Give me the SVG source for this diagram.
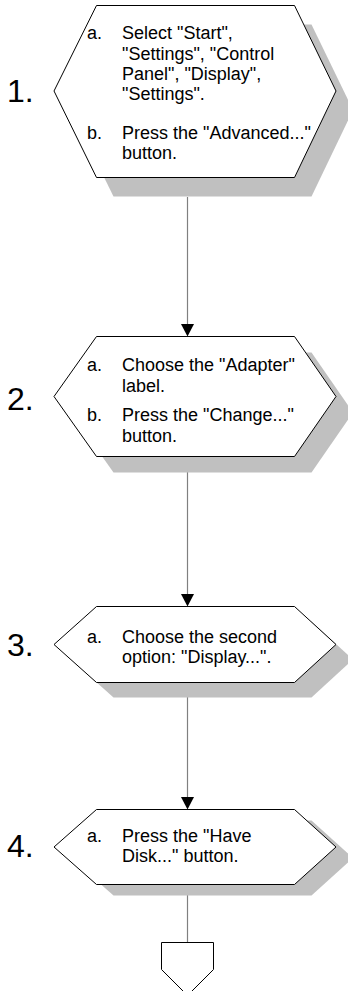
<svg xmlns="http://www.w3.org/2000/svg" width="348" height="991" viewBox="0 0 348 991">
  <defs>
    <style>
      .hex { fill: #ffffff; stroke: #000000; stroke-width: 1; }
      .shadow { fill: #c0c0c0; stroke: none; }
      .wire { stroke: #808080; stroke-width: 1.2; fill: none; }
      .head { fill: #000000; }
      .txt { font-family: "Liberation Sans", Arial, sans-serif; font-size: 18px; fill: #000000; }
      .num { font-family: "Liberation Sans", Arial, sans-serif; font-size: 32px; fill: #000000; }
    </style>
  </defs>
  <rect width="348" height="991" fill="#ffffff"/>

  <!-- connectors -->
  <g id="connectors">
    <line class="wire" x1="187.5" y1="197" x2="187.5" y2="325"/>
    <polygon class="head" points="181,324 194,324 187.5,336.5"/>
    <line class="wire" x1="187.5" y1="472" x2="187.5" y2="595"/>
    <polygon class="head" points="181,594 194,594 187.5,606.5"/>
    <line class="wire" x1="187.5" y1="697" x2="187.5" y2="798"/>
    <polygon class="head" points="181,797 194,797 187.5,809.5"/>
    <line class="wire" x1="187.5" y1="895" x2="187.5" y2="942"/>
  </g>

  <!-- step 1 -->
  <g id="step1">
    <polygon class="shadow" transform="translate(17,19)" points="96.5,5.5 294.5,5.5 336,91 294.5,177.5 96.5,177.5 54,91"/>
    <polygon class="hex" points="96.5,5.5 294.5,5.5 336,91 294.5,177.5 96.5,177.5 54,91"/>
    <text class="num" x="7" y="102">1.</text>
    <text class="txt" x="87" y="39">a.</text>
    <text class="txt" x="122" y="39">Select "Start",</text>
    <text class="txt" x="122" y="59.5">"Settings", "Control</text>
    <text class="txt" x="122" y="80">Panel", "Display",</text>
    <text class="txt" x="122" y="100">"Settings".</text>
    <text class="txt" x="87" y="138.5">b.</text>
    <text class="txt" x="122" y="138.5">Press the "Advanced..."</text>
    <text class="txt" x="122" y="159">button.</text>
  </g>

  <!-- step 2 -->
  <g id="step2">
    <polygon class="shadow" transform="translate(17,16)" points="96.5,336.5 294.5,336.5 336,396.5 294.5,456.5 96.5,456.5 54,396.5"/>
    <polygon class="hex" points="96.5,336.5 294.5,336.5 336,396.5 294.5,456.5 96.5,456.5 54,396.5"/>
    <text class="num" x="7" y="410">2.</text>
    <text class="txt" x="87" y="371">a.</text>
    <text class="txt" x="122" y="371">Choose the "Adapter"</text>
    <text class="txt" x="122" y="392">label.</text>
    <text class="txt" x="87" y="421">b.</text>
    <text class="txt" x="122" y="421">Press the "Change..."</text>
    <text class="txt" x="122" y="441.5">button.</text>
  </g>

  <!-- step 3 -->
  <g id="step3">
    <polygon class="shadow" transform="translate(17,15)" points="96.5,606.5 294.5,606.5 336,644.5 294.5,682.5 96.5,682.5 54,644.5"/>
    <polygon class="hex" points="96.5,606.5 294.5,606.5 336,644.5 294.5,682.5 96.5,682.5 54,644.5"/>
    <text class="num" x="7" y="656">3.</text>
    <text class="txt" x="87" y="643">a.</text>
    <text class="txt" x="122" y="643">Choose the second</text>
    <text class="txt" x="122" y="663">option: "Display...".</text>
  </g>

  <!-- step 4 -->
  <g id="step4">
    <polygon class="shadow" transform="translate(17,11)" points="96.5,809.5 294.5,809.5 336,847 294.5,884.5 96.5,884.5 54,847"/>
    <polygon class="hex" points="96.5,809.5 294.5,809.5 336,847 294.5,884.5 96.5,884.5 54,847"/>
    <text class="num" x="7" y="857">4.</text>
    <text class="txt" x="87" y="842">a.</text>
    <text class="txt" x="122" y="842">Press the "Have</text>
    <text class="txt" x="122" y="862">Disk..." button.</text>
  </g>

  <!-- off-page reference -->
  <g id="offpage">
    <polygon class="hex" points="161.5,942.5 213.5,942.5 213.5,969.5 187.5,995.5 161.5,969.5"/>
  </g>
</svg>
